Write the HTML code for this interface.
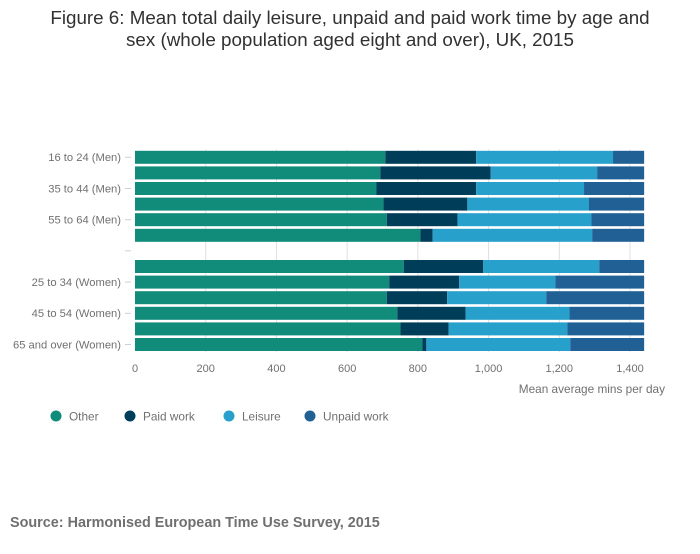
<!DOCTYPE html>
<html><head><meta charset="utf-8"><style>
body{margin:0;background:#fff;font-family:"Liberation Sans",sans-serif;}
svg text{font-family:"Liberation Sans",sans-serif;}
</style></head><body>
<svg id="chart" width="700" height="549" viewBox="0 0 700 549" xmlns="http://www.w3.org/2000/svg">
<text x="350" y="24" text-anchor="middle" font-size="18.8" fill="#323132">Figure 6: Mean total daily leisure, unpaid and paid work time by age and</text>
<text x="350" y="46" text-anchor="middle" font-size="18.8" fill="#323132">sex (whole population aged eight and over), UK, 2015</text>
<g id="grid"></g>
<g id="bars"></g>
<g id="yaxis"></g>
<g id="xaxis"></g>
<text x="665" y="393" text-anchor="end" font-size="11.8" fill="#707070">Mean average mins per day</text>
<g id="legend"></g>
<text x="10" y="527" font-size="14.4" font-weight="bold" fill="#707070">Source: Harmonised European Time Use Survey, 2015</text>
</svg>
<script>
const categories=["16 to 24 (Men)","25 to 34 (Men)","35 to 44 (Men)","45 to 54 (Men)","55 to 64 (Men)","65 and over (Men)","","16 to 24 (Women)","25 to 34 (Women)","35 to 44 (Women)","45 to 54 (Women)","55 to 64 (Women)","65 and over (Women)"];
const shownLabels=[true,false,true,false,true,false,false,false,true,false,true,false,true];
const other=[708,694,683,703,712,807,null,760,719,712,742,751,813];
const paidWork=[257,312,282,237,200,35,null,225,198,171,193,136,11];
const leisure=[387,301,305,344,379,451,null,328,272,280,294,336,407];
const unpaidWork=[88,133,170,156,149,147,null,127,251,277,211,217,209];
const seriesNames=["Other","Paid work","Leisure","Unpaid work"];
const xTicks=[0,200,400,600,800,1000,1200,1400];
const xTickLabels=["0","200","400","600","800","1,000","1,200","1,400"];

const colors=["#118c7b","#003d59","#27a0cc","#206095"];
const NS="http://www.w3.org/2000/svg";
const x0=135,xScale=(630-135)/1400;
const xPos=v=>x0+v*xScale;
const yTop=149.5,rowH=15.6,barH=13;
const yCenter=i=>yTop+rowH*i+rowH/2;
function mk(tag,attrs,parent){const e=document.createElementNS(NS,tag);for(const k in attrs)e.setAttribute(k,attrs[k]);parent.appendChild(e);return e;}
const grid=document.getElementById('grid'),bars=document.getElementById('bars'),ya=document.getElementById('yaxis'),xa=document.getElementById('xaxis'),lg=document.getElementById('legend');
xTicks.forEach((t,i)=>{
 if(t>0){const l=mk('line',{x1:xPos(t),x2:xPos(t),y1:yTop,y2:yTop+rowH*categories.length,stroke:'#e0e0e0','stroke-width':1},grid);
 
 }
 const tx=mk('text',{x:xPos(t),y:372,'text-anchor':'middle','font-size':11,fill:'#707070'},xa);
 tx.textContent=xTickLabels[i];
 
 
});
const series=[other,paidWork,leisure,unpaidWork];
categories.forEach((c,i)=>{
 const yc=yCenter(i);
 if(other[i]!==null){
  let cum=0;
  series.forEach((s,k)=>{
   const r=mk('rect',{x:xPos(cum),y:yc-barH/2,width:xPos(cum+s[i])-xPos(cum),height:barH,fill:colors[k]},bars);
   
   
   cum+=s[i];
  });
 }
 if(shownLabels[i]||c===""){
  const tk=mk('line',{x1:125,x2:131,y1:yc,y2:yc,stroke:'#c8cfe0','stroke-width':1},ya);
  
  
 }
 if(shownLabels[i]){
  const t=mk('text',{x:121,y:yc+3.8,'text-anchor':'end','font-size':11.2,fill:'#707070'},ya);
  t.textContent=c;
  
  
 }
});
const lx=[56,130,229,310];
seriesNames.forEach((n,k)=>{
 const g=mk('g',{},lg);
 
 
 mk('circle',{cx:lx[k],cy:416,r:5.5,fill:colors[k]},g);
 const t=mk('text',{x:lx[k]+13,y:420.5,'font-size':11.8,fill:'#707070'},g);
 t.textContent=n;
});
</script>
</body></html>
